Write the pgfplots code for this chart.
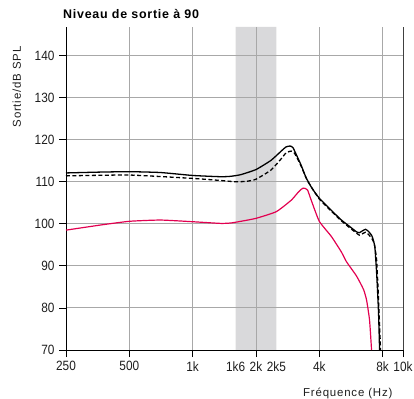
\documentclass[border=0pt]{standalone}
\usepackage{fontspec}
\setmainfont{Liberation Sans}
\newfontfamily\condfont[FakeStretch=0.88]{Liberation Sans}
\newfontfamily\labelfont[LetterSpace=7]{Liberation Sans}
\newfontfamily\titlefont[LetterSpace=6]{Liberation Sans}
\usepackage{pgfplots}
\pgfplotsset{compat=1.18}
\definecolor{curvered}{RGB}{226,0,80}
\definecolor{bandgray}{RGB}{217,217,219}
\definecolor{gridgray}{RGB}{168,168,168}
\definecolor{textgray}{RGB}{30,30,30}
\begin{document}
\begin{tikzpicture}
\begin{axis}[
  set layers,
  scale only axis,
  width=337bp, height=323bp,
  xmode=log, log basis x=2,
  xmin=250, xmax=10000,
  ymin=70, ymax=146.8,
  axis x line*=bottom,
  axis y line*=left,
  axis line style={black, line width=1pt},
  x axis line style={-}, y axis line style={-},
  xtick={250,500,1000,2000,4000,8000,10000},
  xticklabels={250,500,1k,2k,4k,8k,10k},
  extra x ticks={1600,2500},
  extra x tick labels={1k6,2k5},
  extra x tick style={grid=none, tick style={draw=none}},
  ytick={70,80,...,140},
  grid=major,
  major grid style={gridgray, line width=0.9pt},
  tick style={black, line width=0.8pt},
  major tick length=7bp,
  tick align=outside,
  xticklabel style={font=\condfont\fontsize{13.5}{13.5}\selectfont, text=textgray, yshift=-1bp},
  yticklabel style={font=\condfont\fontsize{13.5}{13.5}\selectfont, text=textgray, xshift=-1bp},
  /pgf/number format/assume math mode=true,
  clip=false,
]
% frequency band 1.6 kHz to 2.5 kHz
\addplot[on layer=axis background, fill=bandgray, draw=none]
  coordinates {(1600,70) (2500,70) (2500,146.8) (1600,146.8) (1600,70)};
% right edge at 10 kHz
\addplot[on layer=axis lines, draw=black!75, line width=0.9pt]
  coordinates {(10000,70) (10000,146.8)};

% solid black curve
\addplot[black, line width=1.3pt, line join=round, smooth, tension=0.3] coordinates {
(250,112.1) (363,112.3) (500,112.4) (703,112.2) (1000,111.5) (1361,111.2)
(1519,111.3) (1696,111.7) (2000,112.9) (2359,115.1) (2650,117.4) (2782,118.3)
(2907,118.5) (3000,118.1) (3140,116.0) (3281,113.9) (3467,110.9) (3700,108.4) (4000,106.1)
(4564,103.2) (5095,100.9) (5600,99.3) (6010,98.1) (6211,97.9) (6400,98.3)
(6636,98.7) (6850,98.2) (7088,97.3) (7200,96.4) (7350,94.5) (7500,88.0)
(7650,79.0) (7740,70)
};
% dashed black curve
\addplot[black, line width=1.3pt, dash pattern=on 4pt off 2.5pt, line join=round, smooth, tension=0.3] coordinates {
(250,111.4) (500,111.6) (1000,110.8) (1361,110.3) (1600,110.0) (1800,110.1)
(2000,110.6) (2359,112.8) (2650,115.6) (2782,116.9) (2940,117.3) (3050,116.8)
(3281,113.7) (3500,110.4) (3750,108.0) (4000,105.9) (4564,103.0) (5095,100.7) (5600,99.0)
(6010,97.8) (6211,97.3) (6500,97.8) (6636,98.0) (6850,97.5) (7088,96.6)
(7300,95.3) (7491,91.4) (7654,81.9) (7824,70)
};
% red curve
\addplot[curvered, line width=1.2pt, line join=round, smooth, tension=0.3] coordinates {
(250,98.5) (363,99.7) (500,100.6) (703,100.9) (1000,100.5) (1361,100.1)
(1519,100.2) (1696,100.6) (2000,101.3) (2500,102.9) (2940,105.6) (3150,107.3)
(3281,108.2) (3355,108.5) (3440,108.4) (3522,108.0) (3663,105.6) (4000,100.6)
(4564,97.0) (5095,93.3) (5384,91.0) (6010,87.6) (6491,84.4) (6710,81.9)
(6935,77.1) (7088,70)
};
\end{axis}
\node[anchor=base west, inner sep=0pt, font=\titlefont\bfseries\fontsize{12.5}{13}\selectfont]
  at (-3bp,331.7bp) {Niveau de sortie à 90};
\node[anchor=base, rotate=90, inner sep=0pt, text=textgray, font=\labelfont\fontsize{11.5}{12}\selectfont]
  at (-45bp,263bp) {Sortie/dB SPL};
\node[anchor=base west, inner sep=0pt, text=textgray, font=\labelfont\fontsize{11.5}{12}\selectfont]
  at (237bp,-46bp) {Fréquence (Hz)};
\pgfresetboundingbox
\useasboundingbox (-66bp,-49bp) rectangle (348bp,350bp);
\end{tikzpicture}
\end{document}
